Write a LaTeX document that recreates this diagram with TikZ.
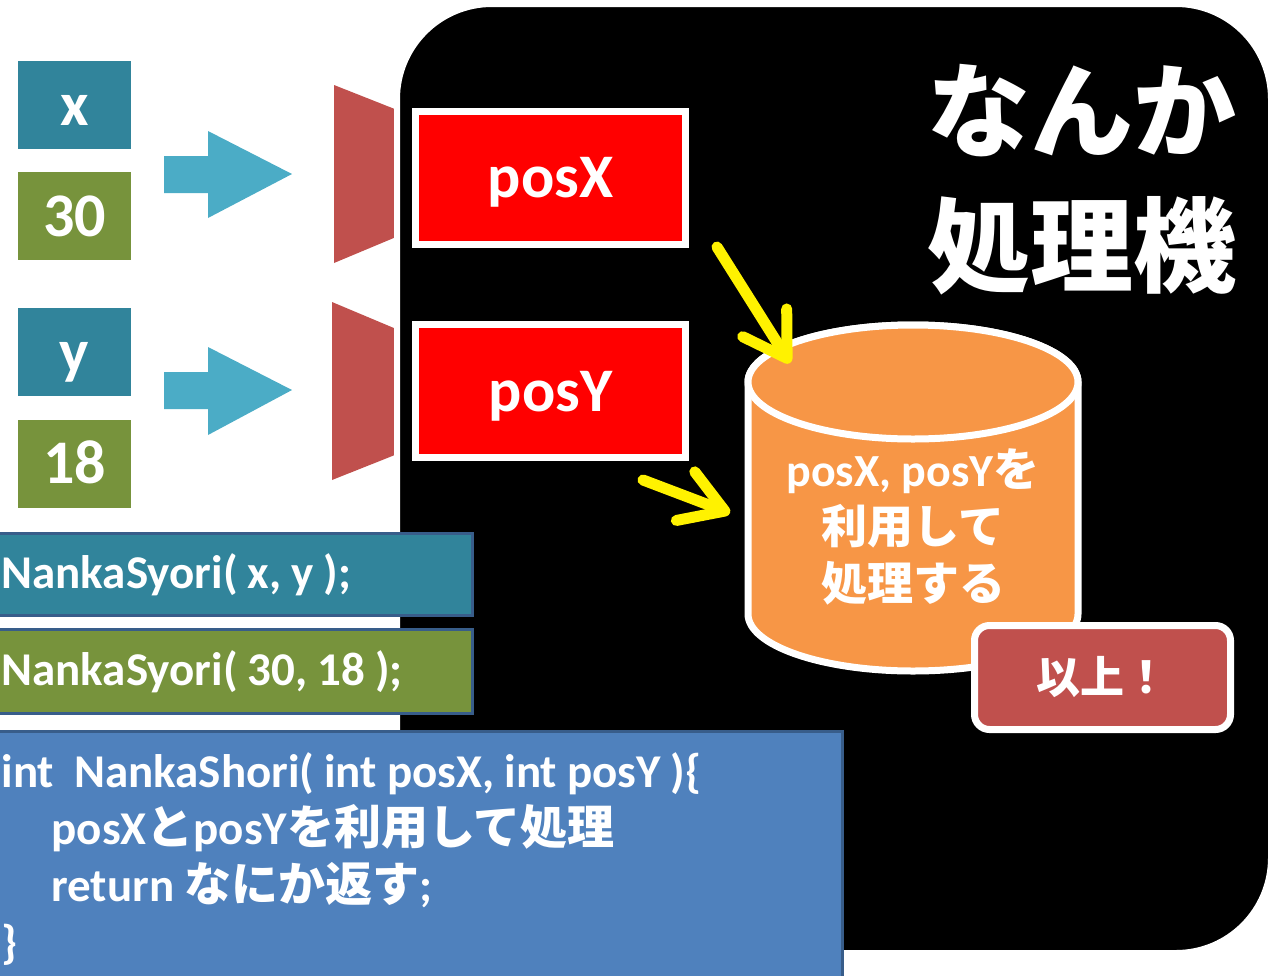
\documentclass[tikz,border=0pt]{standalone}
\usepackage{fontspec}
\setmainfont{Carlito}
\newfontfamily\jp{Noto Sans CJK JP}
\usetikzlibrary{arrows.meta}
\definecolor{tealbox}{HTML}{31849B}
\definecolor{olivebox}{HTML}{77933C}
\definecolor{flowblue}{HTML}{4BACC6}
\definecolor{funnelred}{HTML}{C0504D}
\definecolor{cylorange}{HTML}{F79646}
\definecolor{codeblue}{HTML}{4F81BD}
\definecolor{codeline}{HTML}{385D8A}
\tikzset{
  varbox/.style={draw=white, line width=8pt, minimum width=121pt, minimum height=96pt,
    text=white, font=\bfseries\fontsize{62}{62}\selectfont, text height=40pt, text depth=0pt},
  posbox/.style={fill=red, draw=white, line width=7pt, minimum width=270pt, minimum height=133pt,
    text=white, font=\bfseries\fontsize{62}{62}\selectfont, text height=40pt, text depth=0pt},
  codebox/.style={draw=codeline, line width=3pt, text=white, font=\bfseries\fontsize{47}{57}\selectfont,
    inner xsep=10pt, align=left, execute at begin node={\spaceskip=10pt\relax}},
  hilite/.style={draw=yellow, line width=11pt, line cap=round, -{Straight Barb[length=42pt,width=52pt,round]}}
}
\begin{document}
\begin{tikzpicture}[x=1pt,y=-1pt]
\useasboundingbox (0,0) rectangle (1272,975);
% funnels behind the machine
\fill[funnelred] (334,85) -- (420,119) -- (420,227) -- (334,263) -- cycle;
\fill[funnelred] (332,302) -- (420,339) -- (420,445) -- (332,480) -- cycle;
% the machine
\draw[fill=black, draw=white, line width=6pt, rounded corners=95pt] (397,4) rectangle (1271,953);
\node[posbox] (posX) at (550.5,177.5) {posX};
\node[posbox] (posY) at (550.5,391) {posY};
% cylinder
\filldraw[fill=cylorange, draw=white, line width=7pt] (748,382) -- (748,614)
  arc[start angle=180, end angle=360, x radius=165pt, y radius=57pt] -- (1078,382)
  arc[start angle=0, end angle=180, x radius=165pt, y radius=57pt] -- cycle;
\filldraw[fill=cylorange, draw=white, line width=7pt] (913,382) ellipse[x radius=165pt, y radius=57pt];
\node[text=white, align=center, font=\bfseries\fontsize{46}{57}\selectfont] (proc) at (913,527)
  {posX, posY{\jp を}\\{\jp 利用して}\\{\jp 処理する}};
\coordinate (xin) at (717,247);
\coordinate (xhit) at (790,363);
\coordinate (yin) at (643,480);
\coordinate (yhit) at (730,513);
\draw[hilite] (xin) -- (xhit);
\draw[hilite] (yin) -- (yhit);
\node[fill=funnelred, draw=white, line width=7pt, rounded corners=15pt, minimum width=256pt,
  minimum height=104pt, text=white, font=\jp\bfseries\fontsize{44}{44}\selectfont] (done) at (1102.5,677.5) {以上！};
\node[text=white, align=center, font=\jp\bfseries\fontsize{103}{135}\selectfont] (title) at (1082,180) {なんか\\処理機};
% arguments
\node[varbox, fill=tealbox] (vx) at (74.5,105) {x};
\node[varbox, fill=olivebox] (v30) at (74.5,216) {30};
\node[varbox, fill=tealbox] (vy) at (74.5,352) {y};
\node[varbox, fill=olivebox] (v18) at (74.5,463.5) {18};
\fill[flowblue] (164,156) -- (208,156) -- (208,131) -- (292,174) -- (208,218) -- (208,193) -- (164,193) -- cycle;
\fill[flowblue] (164,372) -- (208,372) -- (208,347) -- (292,390) -- (208,435) -- (208,409) -- (164,409) -- cycle;
% code
\node[codebox, fill=tealbox, text width=461pt, minimum height=82pt, anchor=west] (callvar) at (-10,574.5) {NankaSyori( x, y );};
\node[codebox, fill=olivebox, text width=461pt, minimum height=84pt, anchor=west] (callnum) at (-10,671.5) {NankaSyori( 30, 18 );};
\node[codebox, fill=codeblue, text width=831pt, inner ysep=22pt, anchor=north west] (func) at (-10,729.5)
  {int\ \ NankaShori( int posX, int posY )\{\\
   \hspace*{50pt}posX{\jp と}posY{\jp を利用して処理}\\
   \hspace*{50pt}return {\jp なにか返す};\\
   \}};
\end{tikzpicture}
\end{document}
